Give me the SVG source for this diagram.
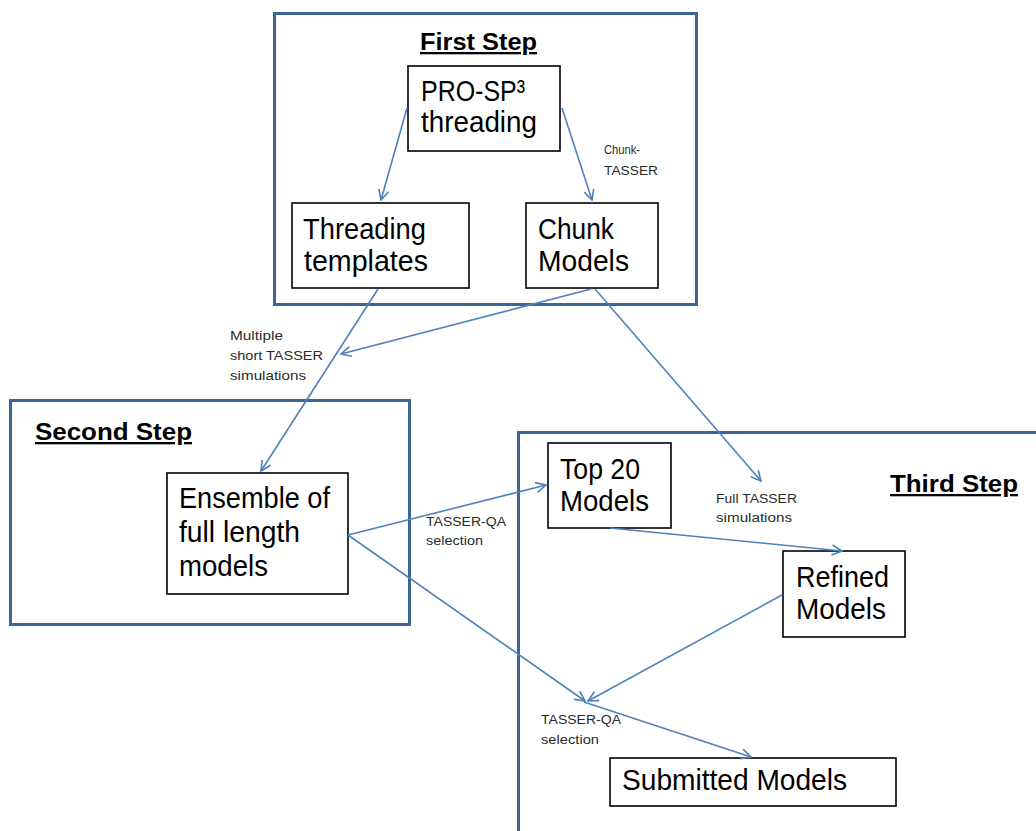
<svg xmlns="http://www.w3.org/2000/svg" width="1036" height="831" viewBox="0 0 1036 831">
<style>
.step{fill:none;stroke:#3D6594;stroke-width:3}
.node{fill:#fff;stroke:#000;stroke-width:1.6}
.t{font-family:"Liberation Sans",Arial,sans-serif;font-size:30px;fill:#000}
.title{font-family:"Liberation Sans",Arial,sans-serif;font-size:23px;font-weight:bold;fill:#000;text-decoration:underline}
.lbl{font-family:"Liberation Sans",Arial,sans-serif;font-size:12.5px;fill:#2a2a2a}
.c{fill:none;stroke:#4F81BD;stroke-width:1.6;marker-end:url(#ah)}
</style>
<defs>
<marker id="ah" viewBox="0 0 12 12" refX="11" refY="6" markerWidth="12" markerHeight="12" markerUnits="userSpaceOnUse" orient="auto">
<path d="M1,1 L11,6 L1,11" fill="none" stroke="#4F81BD" stroke-width="1.6"/>
</marker>
</defs>
<rect width="1036" height="831" fill="#fff"/>

<g id="first-step">
<rect class="step" x="274.5" y="13.5" width="422" height="291"/>
<text class="title" x="420" y="50" textLength="117" lengthAdjust="spacingAndGlyphs">First Step</text>
</g>
<g id="second-step">
<rect class="step" x="10.5" y="400.5" width="399" height="224"/>
<text class="title" x="35" y="440" textLength="157" lengthAdjust="spacingAndGlyphs">Second Step</text>
</g>
<g id="third-step">
<rect class="step" x="518.5" y="432.5" width="600" height="500"/>
<text class="title" x="890" y="492" textLength="128" lengthAdjust="spacingAndGlyphs">Third Step</text>
</g>

<g id="pro-sp3">
<rect class="node" x="408" y="66" width="152" height="85"/>
<text class="t" x="421" y="101" textLength="104" lengthAdjust="spacingAndGlyphs">PRO-SP³</text>
<text class="t" x="421" y="132" textLength="116" lengthAdjust="spacingAndGlyphs">threading</text>
</g>
<g id="threading-templates">
<rect class="node" x="292" y="203" width="177" height="85"/>
<text class="t" x="303" y="239" textLength="123" lengthAdjust="spacingAndGlyphs">Threading</text>
<text class="t" x="304" y="271" textLength="124" lengthAdjust="spacingAndGlyphs">templates</text>
</g>
<g id="chunk-models">
<rect class="node" x="526" y="203" width="132" height="85"/>
<text class="t" x="538" y="239" textLength="76" lengthAdjust="spacingAndGlyphs">Chunk</text>
<text class="t" x="538" y="271" textLength="91" lengthAdjust="spacingAndGlyphs">Models</text>
</g>
<g id="ensemble">
<rect class="node" x="167" y="473" width="181" height="121"/>
<text class="t" x="179" y="508" textLength="151" lengthAdjust="spacingAndGlyphs">Ensemble of</text>
<text class="t" x="179" y="542" textLength="121" lengthAdjust="spacingAndGlyphs">full length</text>
<text class="t" x="179" y="576" textLength="89" lengthAdjust="spacingAndGlyphs">models</text>
</g>
<g id="top20">
<rect class="node" x="548" y="443" width="123" height="85"/>
<text class="t" x="560" y="479" textLength="80" lengthAdjust="spacingAndGlyphs">Top 20</text>
<text class="t" x="560" y="511" textLength="89" lengthAdjust="spacingAndGlyphs">Models</text>
</g>
<g id="refined">
<rect class="node" x="783" y="551" width="122" height="86"/>
<text class="t" x="796" y="587" textLength="93" lengthAdjust="spacingAndGlyphs">Refined</text>
<text class="t" x="796" y="619" textLength="90" lengthAdjust="spacingAndGlyphs">Models</text>
</g>
<g id="submitted">
<rect class="node" x="610" y="758" width="286" height="48"/>
<text class="t" x="622" y="790" textLength="225" lengthAdjust="spacingAndGlyphs">Submitted Models</text>
</g>

<g id="labels">
<text class="lbl" x="604" y="154" textLength="36" lengthAdjust="spacingAndGlyphs">Chunk-</text>
<text class="lbl" x="604" y="175" textLength="54" lengthAdjust="spacingAndGlyphs">TASSER</text>
<text class="lbl" x="230" y="340" textLength="53" lengthAdjust="spacingAndGlyphs">Multiple</text>
<text class="lbl" x="230" y="360" textLength="93" lengthAdjust="spacingAndGlyphs">short  TASSER</text>
<text class="lbl" x="230" y="380" textLength="76" lengthAdjust="spacingAndGlyphs">simulations</text>
<text class="lbl" x="426" y="526" textLength="80" lengthAdjust="spacingAndGlyphs">TASSER-QA</text>
<text class="lbl" x="426" y="545" textLength="57" lengthAdjust="spacingAndGlyphs">selection</text>
<text class="lbl" x="716" y="503" textLength="81" lengthAdjust="spacingAndGlyphs">Full TASSER</text>
<text class="lbl" x="716" y="522" textLength="76" lengthAdjust="spacingAndGlyphs">simulations</text>
<text class="lbl" x="541" y="724" textLength="80" lengthAdjust="spacingAndGlyphs">TASSER-QA</text>
<text class="lbl" x="541" y="744" textLength="58" lengthAdjust="spacingAndGlyphs">selection</text>
</g>

<g id="connectors">
<path class="c" d="M407,108 L381,200"/>
<path class="c" d="M562,108 L592,200"/>
<path class="c" d="M378,289 L261,471"/>
<path class="c" d="M591,289 L341,354"/>
<path class="c" d="M595,289 L761,481"/>
<path class="c" d="M348,535 L546,485"/>
<path class="c" d="M348,535 L585,701"/>
<path class="c" d="M610,528 L842,551"/>
<path class="c" d="M782,595 L588,701"/>
<path class="c" d="M584,702 L751,757"/>
</g>
</svg>
